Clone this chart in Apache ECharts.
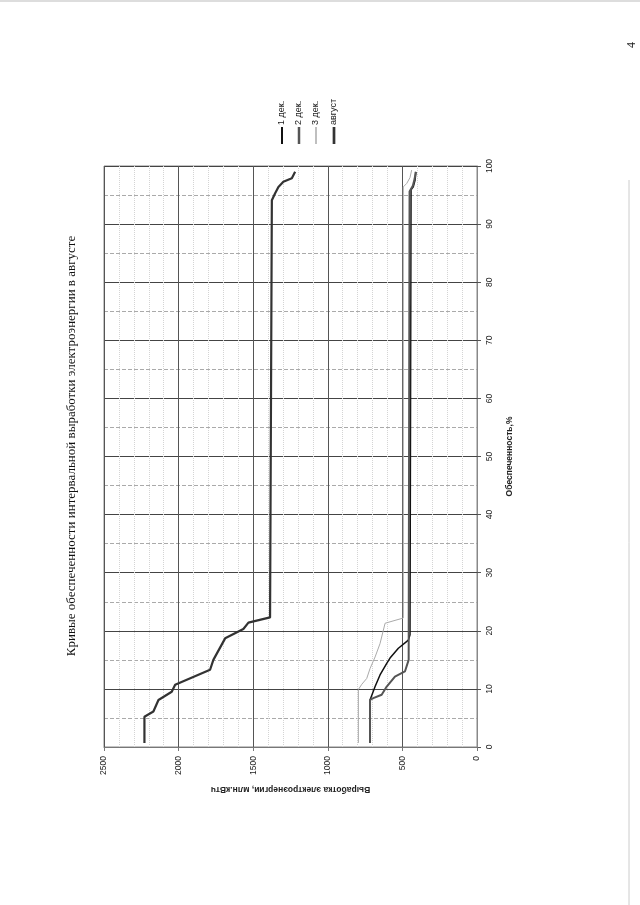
<!DOCTYPE html>
<html>
<head>
<meta charset="utf-8">
<script src="https://cdn.jsdelivr.net/npm/echarts@6/dist/echarts.min.js"></script>
<style>
html,body{margin:0;padding:0;background:#fff;}
#chart{width:640px;height:905px;}
</style>
</head>
<body>
<div id="chart"></div>
<script>
// Обеспеченность, % (vertical axis in the rotated page) and Выработка, млн.кВтч
const avgustPct = [0.7, 5.2, 6.1, 8.1, 9.5, 10.7, 13.3, 15.0, 18.7, 20.3, 21.4, 22.3, 94.1, 95.3, 96.4, 97.3, 97.9, 99.0];
const avgustVal = [2229, 2229, 2169, 2135, 2046, 2023, 1789, 1767, 1688, 1566, 1532, 1387, 1375, 1353, 1331, 1298, 1241, 1219];

const dek3Pct = [0.7, 9.9, 10.8, 11.8, 13.5, 15.5, 17.8, 21.3, 22.2, 96.4, 97.0, 98.0, 99.3];
const dek3Val = [795, 795, 772, 739, 717, 683, 650, 616, 494, 494, 471, 449, 438];

const dek1Pct = [0.7, 8.1, 10.4, 12.4, 14.4, 15.3, 17.0, 18.4, 19.3, 95.9, 96.4, 97.6, 99.0];
const dek1Val = [717, 717, 683, 650, 605, 583, 527, 460, 449, 442, 427, 415, 409];

const dek2Pct = [0.7, 8.1, 8.4, 9.0, 10.4, 12.1, 13.0, 15.0, 95.6, 96.6, 97.8, 99.0];
const dek2Val = [717, 717, 695, 639, 605, 550, 483, 458, 452, 430, 418, 411];

const valueTicks = [0, 500, 1000, 1500, 2000, 2500];
const pctTicks = [0, 10, 20, 30, 40, 50, 60, 70, 80, 90, 100];
const legendNames = ['1 дек.', '2 дек.', '3 дек.', 'август'];
const titleText = 'Кривые обеспеченности интервальной выработки электроэнергии в августе';

function pairs(vals, pcts){ return vals.map((v,i)=>[v, pcts[i]]); }

const chart = echarts.init(document.getElementById('chart'), null, {renderer:'canvas'});

const legendColors = ['#111', '#555', '#aaa', '#333'];
const legendWidths = [1.5, 2, 1, 2.2];
const legendX = [282, 299, 316, 334];

const graphics = [];
legendNames.forEach((n,i)=>{
  graphics.push({type:'line', shape:{x1:legendX[i], y1:127, x2:legendX[i], y2:144},
    style:{stroke:legendColors[i], lineWidth:legendWidths[i]+0.5}});
  graphics.push({type:'text', x:legendX[i], y:125, rotation:Math.PI/2,
    style:{text:n, fill:'#222', font:'9px "Liberation Sans", Arial, sans-serif', textAlign:'left', textVerticalAlign:'middle'}});
});
graphics.push({type:'text', x:72, y:446, rotation:Math.PI/2,
  style:{text:titleText, fill:'#111', font:'13px "Liberation Serif", "Times New Roman", serif', textAlign:'center', textVerticalAlign:'middle'}});
graphics.push({type:'text', x:632, y:45, rotation:Math.PI/2,
  style:{text:'4', fill:'#222', font:'12px "Liberation Serif", serif', textAlign:'center', textVerticalAlign:'middle'}});
graphics.push({type:'line', shape:{x1:629, y1:180, x2:629, y2:905}, style:{stroke:'#ccc', lineWidth:1}});
graphics.push({type:'line', shape:{x1:0, y1:1, x2:640, y2:1}, style:{stroke:'#bbb', lineWidth:1}});

const axisFont = {fontSize:8.5, fontFamily:'"Liberation Sans", Arial, sans-serif', color:'#222'};

chart.setOption({
  backgroundColor:'#fff',
  animation:false,
  grid:{left:104, right:163, top:166, bottom:158, containLabel:false,
        show:true, borderColor:'#888', borderWidth:1},
  xAxis:{
    type:'value', min:0, max:2500, interval:500, inverse:true, position:'bottom',
    name:'Выработка электроэнергии, млн.кВтч', nameLocation:'middle', nameGap:38, nameRotate:180,
    nameTextStyle:{fontSize:8.5, fontWeight:'bold', fontFamily:'"Liberation Sans", Arial, sans-serif', color:'#222'},
    axisLine:{show:true, lineStyle:{color:'#777', width:1}},
    axisTick:{show:true, length:4, lineStyle:{color:'#777'}},
    axisLabel:Object.assign({rotate:90, margin:9, formatter:v=>String(v)}, axisFont),
    splitLine:{show:true, lineStyle:{color:'#555', width:1}},
    minorTick:{show:false, splitNumber:5},
    minorSplitLine:{show:true, lineStyle:{color:'#d4d4d4', type:'dotted', width:1}}
  },
  yAxis:{
    type:'value', min:0, max:100, interval:10, position:'right',
    name:'Обеспеченность,%', nameLocation:'middle', nameGap:28, nameRotate:90,
    nameTextStyle:{fontSize:8.5, fontWeight:'bold', fontFamily:'"Liberation Sans", Arial, sans-serif', color:'#222'},
    axisLine:{show:true, lineStyle:{color:'#888', width:1}},
    axisTick:{show:true, length:4, lineStyle:{color:'#555'}},
    axisLabel:Object.assign({rotate:90, margin:8}, axisFont),
    splitLine:{show:true, lineStyle:{color:'#444', width:1}},
    minorTick:{show:false, splitNumber:2},
    minorSplitLine:{show:true, lineStyle:{color:'#aaa', type:'dashed', width:1}}
  },
  series:[
    {name:'1 дек.', type:'line', data:pairs(dek1Val, dek1Pct), showSymbol:false, lineStyle:{color:legendColors[0], width:legendWidths[0]}},
    {name:'2 дек.', type:'line', data:pairs(dek2Val, dek2Pct), showSymbol:false, lineStyle:{color:legendColors[1], width:legendWidths[1]}},
    {name:'3 дек.', type:'line', data:pairs(dek3Val, dek3Pct), showSymbol:false, lineStyle:{color:legendColors[2], width:legendWidths[2]}},
    {name:'август', type:'line', data:pairs(avgustVal, avgustPct), showSymbol:false, lineStyle:{color:legendColors[3], width:legendWidths[3]}}
  ],
  graphic:graphics
});
</script>
</body>
</html>
